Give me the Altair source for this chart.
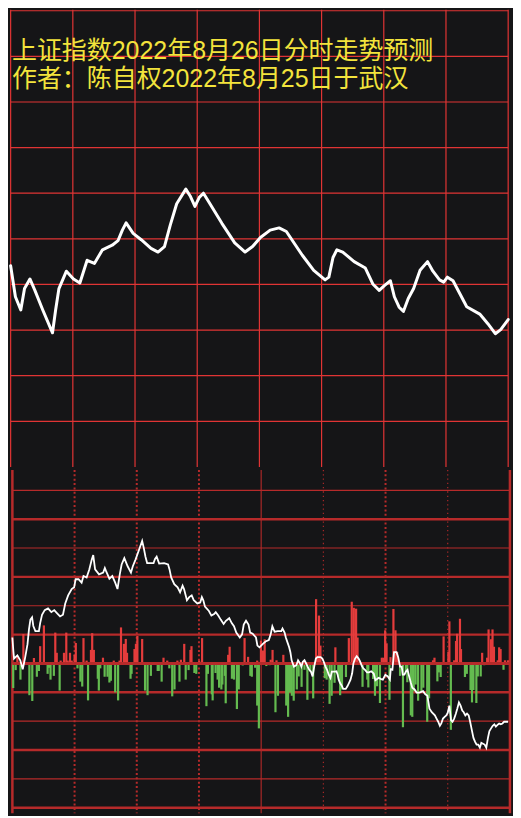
import altair as alt
import pandas as pd

# ---------------- text ----------------
title_lines = ["上证指数2022年8月26日分时走势预测", "作者：陈自权2022年8月25日于武汉"]

# ---------------- top panel: predicted index path (minute of session, index level) ----------------
top_minute = [0, 2.3, 4.9, 6.7, 9.3, 11.7, 15.5, 20.2, 21.7, 23.3,
              26.9, 30.3, 33.4, 36.9, 40.4, 44.3, 49.0, 51.8, 53.9, 55.7,
              59.1, 63.0, 67.7, 71.1, 74.2, 77.0, 80.1, 84.5, 86.6, 88.9,
              91.0, 93.0, 95.7, 101.9, 108.1, 113.1, 116.7, 120.5, 125.2, 129.5,
              133.0, 140.7, 146.2, 151.7, 153.5, 155.5, 157.4, 160.2, 165.7, 171.1,
              174.7, 177.8, 180.4, 183.2, 185.1, 187.4, 189.5, 191.8, 194.4, 197.5,
              201.1, 203.7, 206.9, 208.9, 210.7, 213.4, 216.9, 220.0, 226.3, 230.2,
              233.8, 236.4, 240.0]
top_level = [3244.1, 3237.3, 3234.4, 3239.1, 3241.2, 3238.7, 3234.4, 3229.4, 3234.4, 3239.1,
             3242.9, 3241.2, 3240.3, 3245.3, 3244.6, 3247.6, 3248.6, 3249.6, 3251.9, 3253.5,
             3251.2, 3249.8, 3247.9, 3247.1, 3248.3, 3253.0, 3257.7, 3260.9, 3259.4, 3257.1,
             3259.1, 3260.0, 3258.0, 3253.4, 3249.1, 3247.1, 3248.3, 3250.3, 3251.9, 3252.4,
             3251.6, 3246.4, 3243.1, 3241.0, 3241.6, 3245.9, 3247.6, 3247.1, 3245.0, 3243.6,
             3240.1, 3238.7, 3239.8, 3240.8, 3237.3, 3235.0, 3234.1, 3236.9, 3239.1, 3243.1,
             3245.0, 3242.9, 3241.0, 3240.5, 3241.6, 3240.8, 3237.8, 3235.1, 3233.5, 3231.4,
             3229.2, 3230.1, 3232.3]

# ---------------- bottom panel: reference path (grid units) ----------------
am_minute = [0, 0.5, 0.8, 2.4, 3.8, 5.0, 6.2, 7.3, 8.0, 8.7,
             9.5, 10.1, 11.1, 12.8, 13.4, 14.3, 15.6, 17.2, 18.8, 20.2,
             21.6, 23.0, 24.4, 25.5, 26.9, 28.6, 29.8, 30.5, 31.9, 33.4,
             34.3, 35.8, 37.1, 38.3, 39.0, 39.9, 41.8, 43.8, 44.6, 45.2,
             46.8, 48.2, 49.6, 50.7, 51.8, 52.7, 54.0, 55.6, 57.2, 58.1,
             59.4, 60.8, 62.6, 63.4, 64.2, 65.0, 68.1, 68.8, 69.6, 70.8,
             73.2, 75.1, 75.8, 76.6, 78.1, 79.7, 80.9, 82.1, 82.8, 84.2,
             85.3, 86.5, 87.5, 89.2, 90.6, 91.4, 92.1, 92.9, 94.8, 96.0,
             97.3, 98.1, 99.3, 100.5, 101.9, 103.0, 104.6, 105.8, 106.9, 108.0,
             109.7, 110.8, 111.6, 112.7, 113.9, 114.7, 115.9, 117.5, 118.2, 119.2]
am_value = [0.9, 0.4, 0.17, 0.28, 0.11, -0.2, 0.22, 0.67, 1.18, 1.52,
            1.6, 1.3, 1.12, 1.12, 1.4, 1.69, 1.85, 1.91, 1.78, 1.85,
            1.74, 1.63, 1.69, 2.08, 2.36, 2.58, 2.64, 2.92, 2.92, 2.8,
            3.03, 2.98, 3.26, 3.6, 3.76, 3.26, 3.09, 3.15, 3.31, 3.2,
            2.94, 3.03, 2.8, 2.58, 3.09, 3.43, 3.65, 3.37, 3.15, 3.37,
            3.6, 3.88, 4.25, 4.0, 3.7, 3.48, 3.48, 3.62, 3.7, 3.46,
            3.48, 3.43, 3.26, 2.98, 2.75, 2.64, 2.47, 2.7, 2.58, 2.19,
            2.3, 2.36, 2.19, 2.08, 2.11, 2.3, 2.19, 1.97, 1.82, 1.66,
            1.71, 1.78, 1.66, 1.52, 1.37, 1.48, 1.57, 1.4, 1.29, 1.07,
            0.9, 1.01, 1.35, 1.48, 1.35, 1.07, 1.03, 0.9, 0.62, 0.56]
pm_minute = [120.7, 122.1, 123.7, 124.6, 125.4, 126.5, 128.0, 129.7, 130.3, 131.3,
             131.9, 132.7, 133.5, 134.1, 134.7, 135.8, 137.0, 137.8, 138.6, 139.4,
             140.1, 140.9, 141.7, 142.4, 143.2, 144.0, 144.8, 145.6, 146.4, 147.1,
             148.7, 149.5, 150.2, 151.0, 151.8, 152.6, 153.4, 154.1, 155.7, 156.3,
             156.9, 157.4, 158.0, 158.8, 159.6, 160.8, 161.6, 162.4, 163.1, 163.9,
             164.5, 165.3, 166.1, 167.0, 167.6, 168.6, 169.3, 170.1, 171.1, 172.0,
             173.1, 174.3, 175.1, 175.9, 176.7, 177.9, 178.7, 179.9, 181.1, 182.1,
             182.5, 183.3, 184.1, 185.3, 186.1, 187.0, 187.8, 188.3, 189.1, 189.8,
             190.6, 191.4, 192.2, 192.9, 194.0, 195.0, 196.4, 198.1, 199.2, 200.2,
             201.2, 202.3, 203.8, 204.6, 205.4, 206.2, 206.9, 207.7, 208.5, 209.3,
             210.0, 210.8, 211.6, 212.3, 213.1, 213.9, 214.6, 215.4, 216.2, 217.0,
             217.7, 218.5, 219.3, 220.1, 220.8, 221.6, 222.4, 223.2, 223.9, 224.7,
             225.5, 226.2, 227.0, 227.8, 228.6, 229.4, 230.1, 230.9, 231.7, 232.5,
             233.2, 234.0, 234.8, 235.6, 236.4, 237.2, 239.1]
pm_value = [0.67, 0.76, 0.81, 1.01, 1.29, 1.1, 1.12, 1.12, 1.21, 1.07,
            0.9, 0.73, 0.56, 0.39, 0.11, -0.11, -0.06, 0.11, 0.02, -0.11,
            0.06, 0.11, 0.0, -0.11, -0.22, -0.28, -0.45, -0.11, 0.17, 0.22,
            0.22, 0.17, 0.06, -0.11, -0.22, -0.39, -0.5, -0.28, -0.28, -0.27,
            -0.39, -0.56, -0.67, -0.76, -0.88, -0.88, -0.79, -0.67, -0.56, -0.34,
            0.0, 0.17, 0.25, 0.17, 0.09, -0.09, -0.17, -0.22, -0.31, -0.31,
            -0.27, -0.35, -0.58, -0.54, -0.5, -0.54, -0.56, -0.39, -0.45, -0.56,
            -0.2, -0.22, 0.39, 0.39, 0.22, -0.11, -0.11, -0.39, -0.39, -0.28,
            -0.22, -0.45, -0.67, -0.84, -0.9, -1.01, -1.01, -0.96, -1.07, -1.12,
            -1.57, -1.69, -1.8, -1.91, -2.02, -2.16, -2.08, -1.91, -1.85, -1.8,
            -1.71, -1.46, -1.97, -2.02, -1.91, -1.74, -1.57, -1.35, -1.46, -1.63,
            -1.69, -1.8, -1.74, -1.8, -2.02, -2.3, -2.58, -2.72, -2.81, -2.81,
            -2.92, -2.75, -2.78, -2.81, -2.92, -2.58, -2.34, -2.25, -2.16, -2.11,
            -2.19, -2.13, -2.08, -2.11, -2.08, -2.02, -2.02]

# ---------------- bottom panel bars ----------------
red_minute = [2.4, 5.3, 10.4, 13.4, 15.2, 20.7, 21.4, 23.3, 24.9, 26.0,
              26.7, 27.8, 28.6, 30.0, 30.6, 34.3, 35.8, 37.9, 38.5, 39.3,
              43.7, 48.9, 51.7, 52.4, 53.8, 54.7, 55.3, 58.9, 59.6, 60.3,
              62.6, 72.9, 74.7, 79.6, 81.3, 82.9, 85.9, 86.4, 90.1, 91.5,
              104.1, 104.8, 112.0, 113.7, 118.1, 119.9, 120.9, 121.7, 124.6, 125.5,
              127.4, 130.7, 146.5, 147.0, 147.9, 148.6, 155.8, 162.3, 163.7, 164.7,
              165.8, 166.5, 178.2, 179.1, 179.8, 180.5, 182.4, 183.8, 184.8, 185.6,
              202.9, 203.6, 208.0, 210.3, 210.8, 213.1, 214.0, 214.5, 215.9, 216.4,
              226.6, 229.0, 229.7, 230.9, 231.6, 232.3, 234.1, 234.8, 235.5, 237.6,
              239.0]
red_value = [0.23, 1.02, 0.19, 0.6, 1.32, 1.07, 0.37, 0.1, 0.37, 1.07,
             0.1, 0.37, 0.1, 0.3, 0.71, 0.88, 0.1, 0.47, 1.05, 0.47,
             0.2, 0.1, 0.1, 1.25, 0.68, 0.85, 0.37, 0.5, 0.68, 0.95,
             0.85, 0.2, 0.1, 0.1, 0.13, 0.68, 0.47, 0.6, 0.1, 0.88,
             0.3, 0.58, 0.88, 0.23, 0.1, 0.79, 0.45, 0.84, 0.13, 0.47,
             0.11, 0.3, 2.23, 0.28, 1.66, 0.62, 0.56, 0.88, 2.14, 1.93,
             1.9, 0.9, 0.2, 0.2, 1.15, 0.7, 0.22, 1.89, 1.15, 0.4,
             0.11, 0.2, 0.94, 0.4, 1.46, 0.11, 0.78, 1.03, 1.55, 0.5,
             0.37, 0.2, 1.18, 0.84, 1.18, 0.58, 0.11, 0.56, 0.5, 0.11,
             0.11]
green_minute = [0.4, 1.6, 3.9, 7.6, 8.2, 9.6, 11.8, 12.8, 17.0, 17.7,
                18.4, 20.0, 22.8, 31.4, 32.8, 33.7, 36.5, 41.2, 41.7, 42.4,
                44.5, 45.9, 46.8, 47.5, 49.6, 51.0, 57.0, 57.5, 64.0, 65.2,
                66.8, 70.1, 70.6, 72.0, 75.7, 77.1, 78.2, 80.6, 83.6, 85.0,
                87.8, 88.7, 93.6, 94.3, 96.2, 96.6, 98.0, 99.0, 99.7, 100.8,
                101.3, 102.5, 102.9, 105.9, 106.9, 108.3, 109.2, 111.1, 114.8, 115.5,
                117.1, 118.1, 118.9, 122.5, 124.1, 126.9, 128.1, 132.1, 133.0, 133.9,
                134.8, 135.7, 137.2, 138.1, 139.5, 140.9, 142.3, 143.7, 145.1, 150.7,
                151.6, 153.0, 154.0, 155.4, 157.2, 158.1, 159.0, 160.9, 168.9, 171.2,
                171.7, 174.0, 174.9, 175.9, 177.3, 181.9, 187.0, 188.4, 189.8, 190.5,
                192.2, 192.9, 193.6, 194.5, 195.7, 197.3, 198.2, 200.1, 201.0, 205.0,
                205.7, 206.6, 211.5, 218.3, 219.2, 221.0, 221.7, 222.4, 223.8, 224.5,
                225.9, 227.6, 236.9]
green_value = [-0.85, -0.23, -0.56, -0.05, -1.1, -1.3, -0.46, -0.26, -0.36, -0.15,
               -0.56, -0.43, -0.94, -0.17, -0.63, -0.8, -1.28, -0.53, -0.94, -0.17,
               -0.46, -0.46, -0.66, -0.6, -1.0, -1.28, -0.53, -0.36, -0.94, -1.1,
               -0.43, -0.26, -0.26, -0.63, -0.17, -1.14, -0.9, -0.63, -0.56, -0.23,
               -0.33, -0.36, -1.48, -0.36, -1.07, -1.28, -0.33, -0.56, -0.84, -0.9,
               -0.73, -0.43, -1.38, -0.53, -0.56, -1.58, -0.9, -0.07, -0.43, -0.46,
               -0.15, -1.46, -2.25, -0.09, -0.06, -1.69, -1.12, -1.46, -1.85, -1.01,
               -1.12, -1.29, -0.9, -0.45, -0.81, -0.22, -1.26, -0.28, -1.21, -0.51,
               -0.56, -1.4, -1.12, -0.67, -0.45, -1.1, -0.9, -0.47, -0.81, -0.56,
               -0.83, -0.54, -1.12, -0.79, -1.37, -1.26, -0.43, -2.21, -0.28, -0.65,
               -1.8, -1.85, -0.96, -0.73, -1.29, -0.96, -0.84, -2.02, -1.21, -0.62,
               -0.31, -0.47, -2.3, -0.47, -0.36, -0.92, -1.35, -0.92, -1.37, -0.45,
               -0.45, -0.06, -0.22]

# ---------------- grid definitions ----------------
session = [0, 240]
half_hours = [0, 30, 60, 90, 120, 150, 180, 210, 240]
top_grid_levels = [3300, 3290, 3280, 3270, 3260, 3250, 3240, 3230, 3220, 3210]
bot_thin = [6, 4, 2, -2, -4]
bot_thick = [5, 3, 1, -1, -3, -5]
bot_zero = [0]
bot_dot_major = [30, 60, 90, 180]
bot_dot_minor = [150, 210]
bot_mid = [120]
bot_border = [0, 240]

# ---------------- style ----------------
BG = "#151517"
GRID_T = "#e03434"
GRID_B = "#b62a2a"
RED = "#e43c3c"
GREEN = "#64bb50"
YELLOW = "#f3e43c"
FONT = "Liberation Sans, Noto Sans CJK SC"
W, HT, HB = 505, 458, 344

xt = alt.Scale(domain=[-0.79, 242.33], nice=False, zero=False, padding=0)
yt = alt.Scale(domain=[3200, 3300.21], nice=False, zero=False, padding=0)
xb = alt.Scale(domain=[-1.63, 241.48], nice=False, zero=False, padding=0)
yb = alt.Scale(domain=[-5.19, 6.71], nice=False, zero=False, padding=0)


def hrules(levels, scale_x, scale_y, color, width):
    df = pd.DataFrame({"k": levels, "a": session[0], "b": session[1]})
    return alt.Chart(df).mark_rule(color=color, strokeWidth=width).encode(
        y=alt.Y("k:Q", scale=scale_y, axis=None),
        x=alt.X("a:Q", scale=scale_x, axis=None),
        x2="b:Q",
    )


def vrules(minutes, scale_x, color, width, dash=None):
    kw = dict(color=color, strokeWidth=width)
    if dash:
        kw["strokeDash"] = dash
    return alt.Chart(pd.DataFrame({"m": minutes})).mark_rule(**kw).encode(
        x=alt.X("m:Q", scale=scale_x, axis=None)
    )


# ---------------- top panel ----------------
top_df = pd.DataFrame({"minute": top_minute, "level": top_level})
top_line = alt.Chart(top_df).mark_line(
    color="white", strokeWidth=3, strokeJoin="round", strokeCap="round"
).encode(
    x=alt.X("minute:Q", scale=xt, axis=None),
    y=alt.Y("level:Q", scale=yt, axis=None),
)
title_txt = alt.Chart(pd.DataFrame({"t": ["\n".join(title_lines)]})).mark_text(
    align="left", baseline="alphabetic", font=FONT, fontSize=25, color=YELLOW,
    x=3, y=49, lineBreak="\n", lineHeight=28
).encode(text="t:N")

top = alt.layer(
    vrules(half_hours, xt, GRID_T, 1.2),
    hrules(top_grid_levels, xt, yt, GRID_T, 1.2),
    top_line,
    title_txt,
).properties(width=W, height=HT)

# ---------------- bottom panel ----------------
path_df = pd.DataFrame({"minute": am_minute + pm_minute, "value": am_value + pm_value})
red_df = pd.DataFrame({"minute": red_minute, "value": red_value})
green_df = pd.DataFrame({"minute": green_minute, "value": green_value})


def bars(df, color):
    return alt.Chart(df).mark_bar(color=color, size=2.2).encode(
        x=alt.X("minute:Q", scale=xb, axis=None),
        y=alt.Y("value:Q", scale=yb, axis=None),
        y2=alt.datum(0),
    )


bottom_line = alt.Chart(path_df).mark_line(color="white", strokeWidth=1.8).encode(
    x=alt.X("minute:Q", scale=xb, axis=None),
    y=alt.Y("value:Q", scale=yb, axis=None),
)

bottom = alt.layer(
    hrules(bot_thin, xb, yb, GRID_B, 1.1),
    hrules(bot_thick, xb, yb, GRID_B, 2.4),
    vrules(bot_dot_major, xb, GRID_B, 2, [2, 2.4]),
    vrules(bot_dot_minor, xb, GRID_B, 1.1, [1.3, 3]),
    vrules(bot_mid, xb, GRID_B, 1.1),
    vrules(bot_border, xb, GRID_B, 2.5),
    bars(red_df, RED),
    bars(green_df, GREEN),
    hrules(bot_zero, xb, yb, GRID_B, 3),
    bottom_line,
).properties(width=W, height=HB)

chart = alt.vconcat(top, bottom, spacing=0).properties(
    background=BG, padding={"left": 0, "top": 0, "right": 0, "bottom": 0}
).configure_view(stroke=None)

chart.save("out.html", embed_options={"renderer": "svg", "actions": False})
